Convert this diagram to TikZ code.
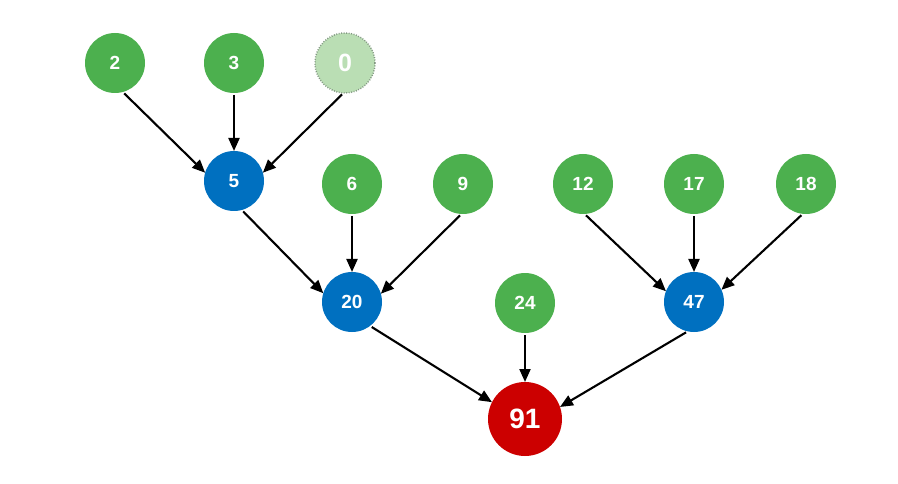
\documentclass[tikz,border=0pt]{standalone}
\usepackage{fontspec}
\setmainfont{Liberation Sans}
\usetikzlibrary{arrows.meta}
\definecolor{leafgreen}{RGB}{76,176,78}
\definecolor{palegreen}{RGB}{186,222,180}
\definecolor{dotgray}{RGB}{130,150,130}
\definecolor{sumblue}{RGB}{0,112,192}
\definecolor{totalred}{RGB}{204,0,0}
\begin{document}
\begin{tikzpicture}[x=1pt,y=-1pt,
  disc/.style={circle,minimum size=60pt,inner sep=0pt,outer sep=0pt,
    text=white,font=\bfseries\fontsize{19}{21}\selectfont},
  leaf/.style={disc,fill=leafgreen},
  ghost/.style={disc,fill=palegreen,draw=dotgray,line width=1.5pt,
    dash pattern=on 0.9pt off 1.6pt,font=\bfseries\fontsize{25}{27}\selectfont},
  partial/.style={disc,fill=sumblue},
  total/.style={disc,fill=totalred,minimum size=74pt,
    font=\bfseries\fontsize{28}{30}\selectfont},
  link/.style={line width=2.1pt,shorten <=2pt,
    -{Triangle[length=13pt,width=11pt]}}]
  \path[use as bounding box] (0,0) rectangle (898,484);

  % first row
  \node[leaf]    (n2)  at (115,63)  {2};
  \node[leaf]    (n3)  at (234,63)  {3};
  \node[ghost]   (n0)  at (345,63)  {0};
  % second row
  \node[partial] (n5)  at (234,181) {5};
  \node[leaf]    (n6)  at (352,184) {6};
  \node[leaf]    (n9)  at (463,184) {9};
  \node[leaf]    (n12) at (583,184) {12};
  \node[leaf]    (n17) at (694,184) {17};
  \node[leaf]    (n18) at (806,184) {18};
  % third row
  \node[partial] (n20) at (352,302) {20};
  \node[leaf]    (n24) at (525,303) {24};
  \node[partial] (n47) at (694,302) {47};
  % result
  \node[total]   (n91) at (525,419) {91};

  % connectors
  \draw[link] (n2.-75)  -- (n5.164);
  \draw[link] (n3.south) -- (n5.north);
  \draw[link] (n0.-93)  -- (n5.16);
  \draw[link] (n5.-75)  -- (n20.163);
  \draw[link] (n6.south) -- (n20.north);
  \draw[link] (n9.-93)  -- (n20.16);
  \draw[link] (n12.-87) -- (n47.159);
  \draw[link] (n17.south) -- (n47.north);
  \draw[link] (n18.-96) -- (n47.24);
  \draw[link] (n20.-53) -- (n91.153);
  \draw[link] (n24.south) -- (n91.north);
  \draw[link] (n47.-102) -- (n91.19);
\end{tikzpicture}
\end{document}
